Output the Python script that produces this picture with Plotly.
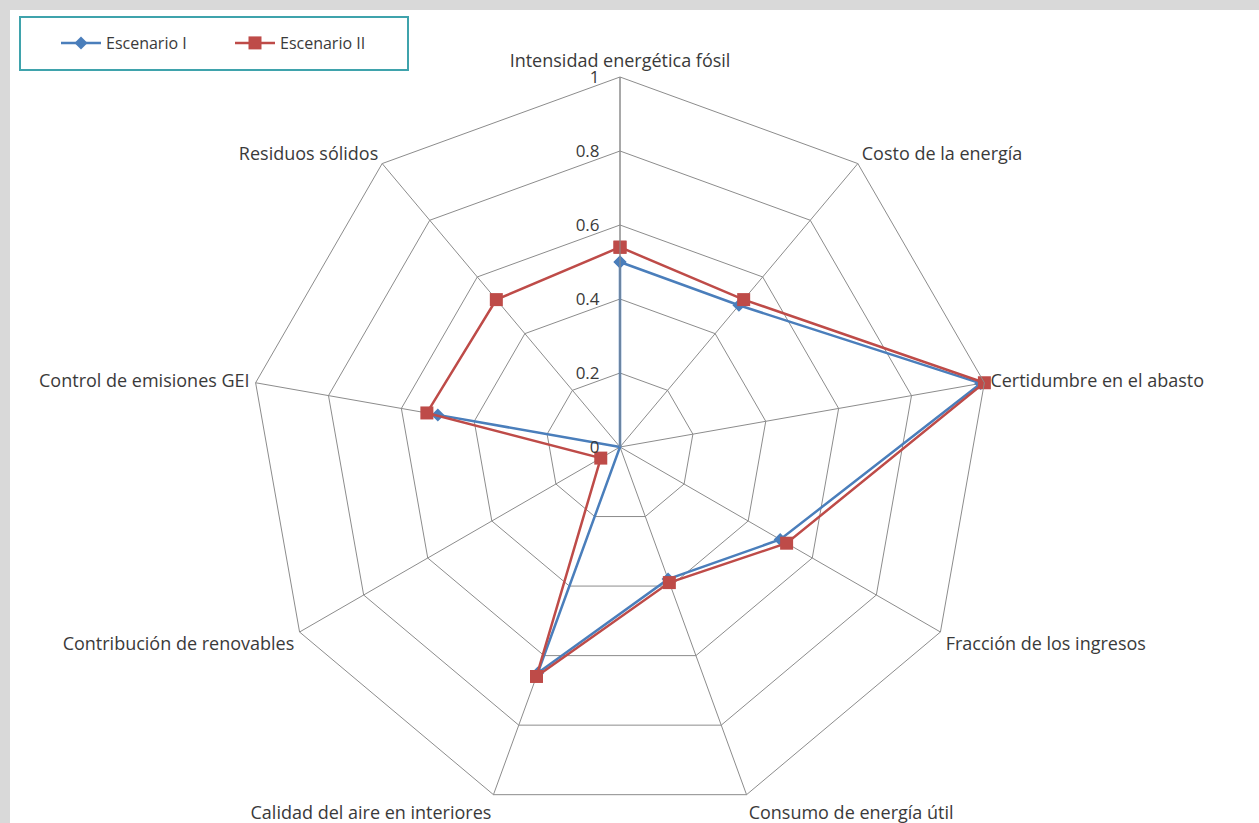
import plotly.graph_objects as go

categories = [
    "Intensidad energética fósil",
    "Costo de la energía",
    "Certidumbre en el abasto",
    "Fracción de los ingresos",
    "Consumo de energía útil",
    "Calidad del aire en interiores",
    "Contribución de renovables",
    "Control de emisiones GEI",
    "Residuos sólidos",
]
escenario_1 = [0.50, 0.50, 0.99, 0.50, 0.38, 0.65, 0.0, 0.50, 0.0]
escenario_2 = [0.54, 0.52, 1.00, 0.52, 0.39, 0.66, 0.06, 0.53, 0.52]
radial_ticks = [0, 0.2, 0.4, 0.6, 0.8, 1]
radial_labels = ["0", "0.2", "0.4", "0.6", "0.8", "1"]

W, H = 1259, 823
cx, cy, R = 620, 447, 370
FONT = "Open Sans"
TXT = "#3a3a3a"
GRID = "#8c8c8c"

fig = go.Figure()
fig.add_trace(go.Scatterpolar(
    r=escenario_1 + escenario_1[:1], theta=categories + categories[:1],
    mode="lines+markers", name="Escenario I",
    line=dict(color="#4A7EBB", width=2.5),
    marker=dict(symbol="diamond", size=10, color="#4A7EBB"),
))
fig.add_trace(go.Scatterpolar(
    r=escenario_2 + escenario_2[:1], theta=categories + categories[:1],
    mode="lines+markers", name="Escenario II",
    line=dict(color="#BE4B48", width=2.5),
    marker=dict(symbol="square", size=13, color="#BE4B48"),
))

fig.update_layout(
    width=W, height=H,
    margin=dict(l=0, r=0, t=0, b=0),
    paper_bgcolor="white",
    font=dict(family=FONT, size=18, color=TXT),
    polar=dict(
        domain=dict(x=[(cx - R) / W, (cx + R) / W], y=[(H - cy - R) / H, (H - cy + R) / H]),
        bgcolor="white",
        gridshape="linear",
        radialaxis=dict(
            range=[0, 1], tickvals=radial_ticks, ticktext=radial_labels,
            angle=90, side="counterclockwise", tickangle=90,
            showgrid=True, gridcolor=GRID, gridwidth=1,
            showline=True, linecolor=GRID, linewidth=1,
            ticks="outside", ticklen=14, tickcolor="rgba(0,0,0,0)",
            tickfont=dict(size=17, color=TXT, family=FONT),
        ),
        angularaxis=dict(
            direction="clockwise", rotation=90,
            showgrid=True, gridcolor=GRID, gridwidth=1,
            showline=True, linecolor=GRID, linewidth=1,
            ticks="outside", ticklen=2, tickcolor="rgba(0,0,0,0)",
            tickfont=dict(size=18, color=TXT, family=FONT),
        ),
    ),
    showlegend=True,
    legend=dict(
        orientation="h", x=56 / W, y=1 - 43 / H, xanchor="left", yanchor="middle",
        bgcolor="rgba(0,0,0,0)", borderwidth=0,
        font=dict(size=16, color=TXT, family=FONT),
        itemwidth=40, entrywidth=119, entrywidthmode="pixels",
    ),
    shapes=[
        dict(type="rect", xref="paper", yref="paper", x0=0, x1=1, y0=1 - 10 / H, y1=1,
             fillcolor="#d9d9d9", line=dict(width=0), layer="below"),
        dict(type="rect", xref="paper", yref="paper", x0=0, x1=10 / W, y0=0, y1=1,
             fillcolor="#d9d9d9", line=dict(width=0), layer="below"),
        dict(type="rect", xref="paper", yref="paper", x0=20 / W, x1=408 / W,
             y0=1 - 70 / H, y1=1 - 17 / H,
             fillcolor="rgba(0,0,0,0)", line=dict(color="#3FA3AC", width=2)),
    ],
)

fig.write_html("out.html", config={"displayModeBar": False},
               post_script="document.body.style.margin='0';")
